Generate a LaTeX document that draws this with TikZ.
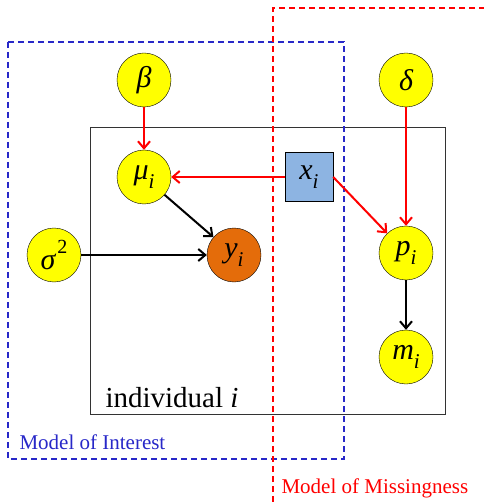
\documentclass[tikz,border=0pt]{standalone}
\usepackage{fontspec}
\setmainfont{Liberation Serif}
\usepackage{xcolor}
\usepackage{tikz}
\usetikzlibrary{arrows.meta}

\definecolor{nodeyellow}{RGB}{255,255,0}
\definecolor{obsorange}{RGB}{228,108,10}
\definecolor{covblue}{RGB}{141,180,226}
\definecolor{dashblue}{RGB}{40,40,200}

\newcommand{\lowsub}[1]{\raisebox{-0.28em}{\fontsize{21}{21}\selectfont #1}}
\newcommand{\highsup}[1]{\hspace{2pt}\raisebox{0.55em}{\fontsize{20}{20}\selectfont\upshape #1}}

\begin{document}
\begin{tikzpicture}[x=1pt,y=-1pt,>={Straight Barb[length=7pt,width=12pt]},
  param/.style={circle,draw,fill=nodeyellow,minimum size=54pt,inner sep=0pt,font=\fontsize{30}{32}\selectfont\itshape},
  redarr/.style={->,red,line width=2pt},
  blackarr/.style={->,black,line width=2pt}]
  \useasboundingbox (0,0) rectangle (484,502);
  % plates
  \draw[line width=0.9pt,black!80] (90,127) rectangle (445,414);
  \draw[dashblue,dashed,line width=1.2pt,dash pattern=on 6pt off 4pt] (8,42) rectangle (344,459);
  \draw[red,dashed,line width=1.2pt,dash pattern=on 6pt off 4pt] (273,502) |- (484,8);
  \node[anchor=west,font=\fontsize{29}{30}\selectfont] (plate) at (102,398) {individual \textit{i}};
  \node[anchor=west,dashblue,font=\fontsize{21}{22}\selectfont] (interest) at (16,442) {Model of Interest};
  \node[anchor=west,red,font=\fontsize{21}{22}\selectfont] (missing) at (278,488) {Model of Missingness};
  % nodes
  \node[param] (beta) at (144,80) {β};
  \node[param] (delta) at (406,80) {δ};
  \node[param] (mu) at (144,177) {μ\lowsub{i}};
  \node[draw,fill=covblue,minimum width=48pt,minimum height=49pt,inner sep=0pt,font=\fontsize{30}{32}\selectfont\itshape] (x) at (309,177) {x\lowsub{i}};
  \node[param] (sigma) at (54,255) {σ\highsup{2}};
  \node[param,fill=obsorange] (y) at (234,255) {y\lowsub{i}};
  \node[param] (p) at (406,253) {p\lowsub{i}};
  \node[param] (m) at (406,357) {m\lowsub{i}};
  % edges
  \draw[redarr] (beta) -- (mu);
  \draw[redarr] (x) -- (mu);
  \draw[redarr] (x.east) -- (p);
  \draw[redarr] (delta) -- (p);
  \draw[blackarr] (mu) -- (y);
  \draw[blackarr] (sigma) -- (y);
  \draw[blackarr] (p) -- (m);
\end{tikzpicture}
\end{document}
